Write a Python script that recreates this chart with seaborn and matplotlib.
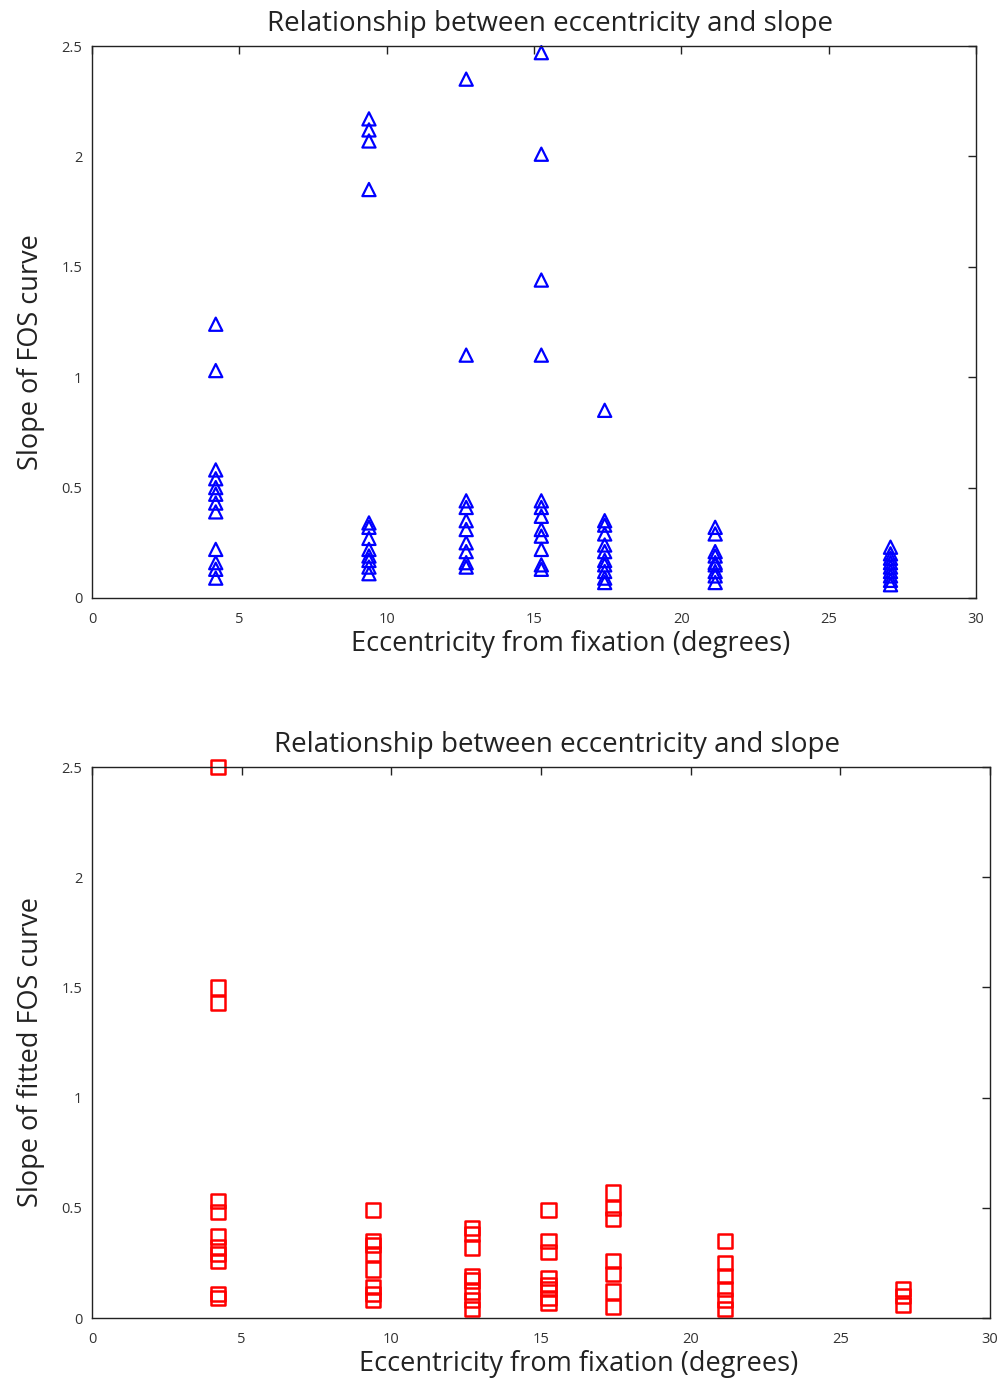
import numpy as np
import pandas as pd
import matplotlib
matplotlib.use("Agg")
import matplotlib.pyplot as plt
import seaborn as sns

sns.set_style("white")
plt.rcParams["font.family"] = ["Open Sans", "DejaVu Sans"]

# Eccentricities (degrees) of the test locations
eccentricities = [4.2, 9.4, 12.7, 15.25, 17.4, 21.15, 27.1]

# Slopes of the raw FOS curves, one list per eccentricity
raw_4 = [1.24, 1.03, 0.58, 0.54, 0.50, 0.47, 0.43, 0.39, 0.22, 0.16, 0.13, 0.09]
raw_9 = [2.17, 2.12, 2.07, 1.85, 0.34, 0.32, 0.27, 0.22, 0.19, 0.17, 0.14, 0.11]
raw_12 = [2.35, 1.10, 0.44, 0.41, 0.35, 0.31, 0.25, 0.21, 0.16, 0.14]
raw_15 = [2.47, 2.01, 1.44, 1.10, 0.44, 0.41, 0.37, 0.31, 0.28, 0.22, 0.15, 0.13]
raw_17 = [0.85, 0.35, 0.33, 0.29, 0.24, 0.21, 0.17, 0.15, 0.12, 0.09, 0.07]
raw_21 = [0.32, 0.29, 0.21, 0.19, 0.16, 0.15, 0.12, 0.10, 0.07]
raw_27 = [0.23, 0.20, 0.18, 0.16, 0.14, 0.12, 0.10, 0.08, 0.06]

# Slopes of the fitted FOS curves, one list per eccentricity
fit_4 = [2.50, 1.50, 1.43, 0.53, 0.48, 0.37, 0.32, 0.29, 0.26, 0.11, 0.09]
fit_9 = [0.49, 0.35, 0.33, 0.29, 0.22, 0.14, 0.11, 0.08]
fit_12 = [0.41, 0.38, 0.32, 0.19, 0.17, 0.12, 0.08, 0.04]
fit_15 = [0.49, 0.35, 0.30, 0.18, 0.15, 0.13, 0.09, 0.07]
fit_17 = [0.57, 0.50, 0.45, 0.26, 0.20, 0.12, 0.05]
fit_21 = [0.35, 0.25, 0.19, 0.13, 0.08, 0.04]
fit_27 = [0.13, 0.10, 0.06]

x_ticks = [0, 5, 10, 15, 20, 25, 30]
y_ticks = [0, 0.5, 1, 1.5, 2, 2.5]
y_tick_labels = ["0", "0.5", "1", "1.5", "2", "2.5"]

title = "Relationship between eccentricity and slope"
x_label = "Eccentricity from fixation (degrees)"


def to_frame(groups):
    rows = []
    for ecc, vals in zip(eccentricities, groups):
        for v in vals:
            rows.append({"ecc": ecc, "slope": v})
    return pd.DataFrame(rows)


raw_df = to_frame([raw_4, raw_9, raw_12, raw_15, raw_17, raw_21, raw_27])
fit_df = to_frame([fit_4, fit_9, fit_12, fit_15, fit_17, fit_21, fit_27])

fig = plt.figure(figsize=(10.02, 13.82), dpi=100)
ax1 = fig.add_axes([0.0918, 0.5673, 0.8822, 0.3994])
ax2 = fig.add_axes([0.0918, 0.0463, 0.8962, 0.3987])

sns.scatterplot(data=raw_df, x="ecc", y="slope", ax=ax1, marker="^", s=90,
                facecolors="none", edgecolors="#0000ff", linewidths=1.6,
                clip_on=False, legend=False)
sns.scatterplot(data=fit_df, x="ecc", y="slope", ax=ax2, marker="s", s=105,
                facecolors="none", edgecolors="#ff0000", linewidths=1.8,
                clip_on=False, legend=False)

for ax, ylab, ylab_y in [(ax1, "Slope of FOS curve", 0.446),
                         (ax2, "Slope of fitted FOS curve", 0.483)]:
    ax.set_xlim(0, 30)
    ax.set_ylim(0, 2.5)
    ax.set_xticks(x_ticks)
    ax.set_xticklabels([str(t) for t in x_ticks])
    ax.set_yticks(y_ticks)
    ax.set_yticklabels(y_tick_labels)
    ax.tick_params(direction="in", length=6, width=1, color="#222222",
                   labelsize=10.5, labelcolor="#333333", top=True, right=True)
    ax.tick_params(axis="x", pad=10)
    ax.tick_params(axis="y", pad=7)
    for sp in ax.spines.values():
        sp.set_visible(True)
        sp.set_color("#222222")
        sp.set_linewidth(1.0)
    ax.set_title(title, fontsize=20, color="#222222", pad=11, x=0.518)
    ax.set_xlabel(x_label, fontsize=19.5, color="#222222", labelpad=2)
    ax.xaxis.label.set_x(0.542)
    ax.set_ylabel(ylab, fontsize=19.5, color="#222222", labelpad=12)
    ax.yaxis.label.set_y(ylab_y)

fig.savefig("out.png", dpi=100)
